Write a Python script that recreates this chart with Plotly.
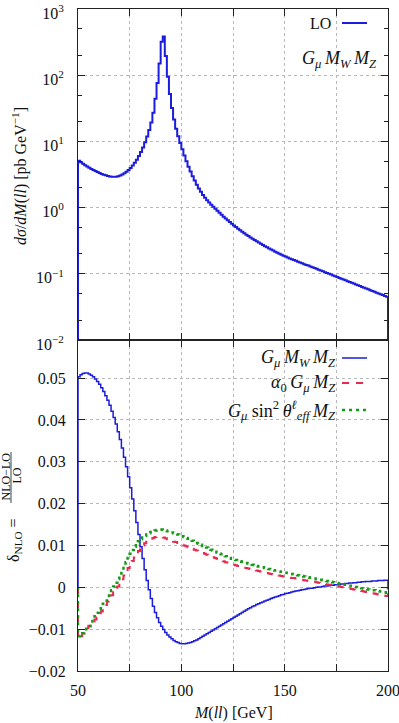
import plotly.graph_objects as go
from plotly.subplots import make_subplots

# bins of 1 GeV, lower edges
bin_lo = list(range(50, 200))

# LO cross section dsigma/dM(ll) [pb/GeV]
lo_xsec = [
    5.1, 4.85, 4.6, 4.38, 4.18, 4.0, 3.84, 3.69, 3.56, 3.44,
    3.33, 3.23, 3.14, 3.07, 3.01, 2.96, 2.93, 2.92, 2.93, 2.98,
    3.06, 3.17, 3.31, 3.49, 3.71, 3.98, 4.32, 4.75, 5.3, 6.0,
    6.9, 8.1, 9.7, 11.9, 14.9, 19.3, 27, 44, 76, 150,
    320, 385, 195, 95, 52, 32, 21.5, 15.5, 12, 9.5,
    7.6, 6.1, 5.0, 4.15, 3.5, 2.98, 2.56, 2.22, 1.95, 1.73,
    1.55, 1.41, 1.29, 1.19, 1.1, 1.03, 0.96, 0.895, 0.835, 0.78,
    0.73, 0.685, 0.643, 0.604, 0.57, 0.538, 0.508, 0.48, 0.455, 0.432,
    0.41, 0.39, 0.372, 0.355, 0.338, 0.323, 0.309, 0.296, 0.284, 0.272,
    0.261, 0.251, 0.241, 0.232, 0.224, 0.216, 0.208, 0.201, 0.194, 0.188,
    0.182, 0.176, 0.171, 0.166, 0.161, 0.157, 0.152, 0.148, 0.144, 0.14,
    0.136, 0.133, 0.129, 0.126, 0.1224, 0.119, 0.1156, 0.1123, 0.1091, 0.106,
    0.103, 0.1, 0.0972, 0.0945, 0.0918, 0.0892, 0.0867, 0.0843, 0.0819, 0.0796,
    0.0774, 0.0752, 0.0731, 0.0711, 0.0691, 0.0671, 0.0652, 0.0634, 0.0616, 0.0599,
    0.0582, 0.0566, 0.055, 0.0534, 0.0519, 0.0505, 0.0491, 0.0477, 0.0463, 0.045,
]

# relative NLO corrections, G_mu M_W M_Z scheme
d_gmw = [
    0.0503, 0.0508, 0.0511, 0.0512, 0.0512, 0.0510, 0.0507, 0.0503, 0.0498, 0.0492,
    0.0485, 0.0477, 0.0468, 0.0458, 0.0447, 0.0435, 0.0421, 0.0406, 0.0390, 0.0372,
    0.0353, 0.0333, 0.0311, 0.0288, 0.0264, 0.0238, 0.0211, 0.0183, 0.0155, 0.0126,
    0.0097, 0.0069, 0.0042, 0.0016, -0.0006, -0.0027, -0.0045, -0.0060, -0.0073, -0.0084,
    -0.0093, -0.0101, -0.0108, -0.0114, -0.0119, -0.0123, -0.0127, -0.0130, -0.0132, -0.0134,
    -0.0135, -0.0135, -0.0134, -0.0133, -0.0132, -0.0130, -0.0128, -0.0126, -0.0123, -0.0120,
    -0.0117, -0.0114, -0.0111, -0.0108, -0.0105, -0.0102, -0.0099, -0.0096, -0.0093, -0.0090,
    -0.0087, -0.0084, -0.0081, -0.0078, -0.0075, -0.0072, -0.0069, -0.0066, -0.0063, -0.0060,
    -0.0057, -0.0054, -0.0051, -0.0049, -0.0046, -0.0044, -0.0041, -0.0039, -0.0037, -0.0035,
    -0.0033, -0.0031, -0.0029, -0.0027, -0.0025, -0.0023, -0.0022, -0.0020, -0.0018, -0.0017,
    -0.0015, -0.0014, -0.0013, -0.0011, -0.0010, -0.0009, -0.0008, -0.0007, -0.0006, -0.0005,
    -0.0004, -0.0003, -0.0002, -0.0002, -0.0001, 0.0000, 0.0001, 0.0001, 0.0002, 0.0003,
    0.0003, 0.0004, 0.0005, 0.0005, 0.0006, 0.0006, 0.0007, 0.0008, 0.0008, 0.0009,
    0.0009, 0.0010, 0.0010, 0.0011, 0.0011, 0.0012, 0.0012, 0.0013, 0.0013, 0.0014,
    0.0014, 0.0014, 0.0015, 0.0015, 0.0015, 0.0016, 0.0016, 0.0016, 0.0017, 0.0017,
]

# alpha0 G_mu M_Z scheme
d_a0 = [
    -0.0122, -0.0117, -0.0110, -0.0104, -0.0098, -0.0092, -0.0087, -0.0082, -0.0077, -0.0072,
    -0.0066, -0.0058, -0.0050, -0.0042, -0.0034, -0.0027, -0.0019, -0.0012, -0.0005, 0.0002,
    0.0010, 0.0019, 0.0028, 0.0037, 0.0046, 0.0055, 0.0063, 0.0071, 0.0079, 0.0087,
    0.0094, 0.0100, 0.0105, 0.0109, 0.0113, 0.0116, 0.0118, 0.0120, 0.0121, 0.0121,
    0.0120, 0.0119, 0.0117, 0.0115, 0.0113, 0.0111, 0.0109, 0.0108, 0.0106, 0.0104,
    0.0102, 0.0100, 0.0098, 0.0096, 0.0094, 0.0092, 0.0090, 0.0088, 0.0086, 0.0084,
    0.0082, 0.0080, 0.0078, 0.0076, 0.0074, 0.0072, 0.0070, 0.0068, 0.0066, 0.0064,
    0.0062, 0.0060, 0.0059, 0.0057, 0.0055, 0.0054, 0.0053, 0.0051, 0.0050, 0.0049,
    0.0047, 0.0046, 0.0045, 0.0044, 0.0042, 0.0041, 0.0040, 0.0039, 0.0038, 0.0036,
    0.0035, 0.0034, 0.0033, 0.0032, 0.0031, 0.0030, 0.0029, 0.0028, 0.0027, 0.0026,
    0.0025, 0.0024, 0.0023, 0.0022, 0.0022, 0.0021, 0.0020, 0.0019, 0.0018, 0.0017,
    0.0016, 0.0015, 0.0014, 0.0013, 0.0013, 0.0012, 0.0011, 0.0010, 0.0009, 0.0008,
    0.0007, 0.0006, 0.0006, 0.0005, 0.0004, 0.0003, 0.0002, 0.0001, 0.0000, -0.0001,
    -0.0002, -0.0003, -0.0004, -0.0005, -0.0006, -0.0007, -0.0008, -0.0009, -0.0010, -0.0011,
    -0.0012, -0.0013, -0.0014, -0.0015, -0.0016, -0.0017, -0.0018, -0.0019, -0.0020, -0.0021,
]

# G_mu sin^2 theta_eff M_Z scheme
d_sw = [
    -0.0117, -0.0114, -0.0110, -0.0105, -0.0099, -0.0093, -0.0085, -0.0077, -0.0069, -0.0061,
    -0.0053, -0.0046, -0.0039, -0.0032, -0.0024, -0.0016, -0.0007, 0.0002, 0.0011, 0.0020,
    0.0030, 0.0040, 0.0050, 0.0060, 0.0070, 0.0080, 0.0089, 0.0097, 0.0104, 0.0110,
    0.0115, 0.0119, 0.0123, 0.0126, 0.0129, 0.0132, 0.0134, 0.0136, 0.0137, 0.0138,
    0.0138, 0.0137, 0.0136, 0.0134, 0.0132, 0.0131, 0.0129, 0.0127, 0.0126, 0.0124,
    0.0122, 0.0120, 0.0118, 0.0116, 0.0113, 0.0111, 0.0109, 0.0106, 0.0104, 0.0102,
    0.0099, 0.0097, 0.0095, 0.0092, 0.0090, 0.0088, 0.0085, 0.0083, 0.0081, 0.0079,
    0.0077, 0.0074, 0.0072, 0.0070, 0.0068, 0.0066, 0.0065, 0.0063, 0.0062, 0.0061,
    0.0059, 0.0058, 0.0057, 0.0055, 0.0054, 0.0053, 0.0051, 0.0050, 0.0049, 0.0048,
    0.0046, 0.0045, 0.0044, 0.0043, 0.0041, 0.0040, 0.0039, 0.0038, 0.0037, 0.0036,
    0.0035, 0.0034, 0.0033, 0.0032, 0.0031, 0.0030, 0.0029, 0.0028, 0.0027, 0.0026,
    0.0025, 0.0024, 0.0023, 0.0022, 0.0021, 0.0020, 0.0019, 0.0018, 0.0017, 0.0016,
    0.0015, 0.0014, 0.0013, 0.0012, 0.0011, 0.0010, 0.0009, 0.0008, 0.0007, 0.0006,
    0.0005, 0.0004, 0.0003, 0.0002, 0.0001, 0.0000, -0.0001, -0.0002, -0.0003, -0.0004,
    -0.0005, -0.0006, -0.0007, -0.0007, -0.0008, -0.0009, -0.0010, -0.0011, -0.0012, -0.0013,
]

x_ticks = [50, 75, 100, 125, 150, 175, 200]
x_ticktext = ["50", "", "100", "", "150", "", "200"]
y1_ticks = [1e-2, 1e-1, 1, 10, 100, 1000]
y1_ticktext = ["10<sup>\u22122</sup>", "10<sup>\u22121</sup>", "10<sup>0</sup>",
               "10<sup>1</sup>", "10<sup>2</sup>", "10<sup>3</sup>"]
y2_ticks = [-0.02, -0.01, 0, 0.01, 0.02, 0.03, 0.04, 0.05]
y2_ticktext = ["\u22120.02", "\u22120.01", "0", "0.01", "0.02", "0.03", "0.04", "0.05"]

BLUE = "#1c1cdc"
RED = "#e62a50"
GREEN = "#159a15"
FONT = "Liberation Serif"


def steps(vals, floor):
    """histogram outline, closed down to floor at both ends"""
    xs = [bin_lo[0]] + bin_lo + [bin_lo[-1] + 1, bin_lo[-1] + 1]
    ys = [floor] + list(vals) + [vals[-1], floor]
    return xs, ys


fig = make_subplots(rows=2, cols=1, shared_xaxes=True, vertical_spacing=0)

x, y = steps(lo_xsec, 1e-4)
fig.add_trace(go.Scatter(x=x, y=y, mode="lines", line=dict(color=BLUE, width=2, shape="hv"),
                         showlegend=False), row=1, col=1)

x, y = steps(d_gmw, 0)
fig.add_trace(go.Scatter(x=x, y=y, mode="lines", line=dict(color=BLUE, width=1.5, shape="hv"),
                         showlegend=False), row=2, col=1)
x, y = steps(d_a0, 0)
fig.add_trace(go.Scatter(x=x, y=y, mode="lines",
                         line=dict(color=RED, width=2, shape="hv", dash="7px,7px"),
                         showlegend=False), row=2, col=1)
x, y = steps(d_sw, 0)
fig.add_trace(go.Scatter(x=x, y=y, mode="lines",
                         line=dict(color=GREEN, width=2.5, shape="hv", dash="3px,4px"),
                         showlegend=False), row=2, col=1)

axis_common = dict(showline=True, linecolor="#222", linewidth=1, mirror="ticks",
                   ticks="inside", tickcolor="#222", ticklen=7, automargin=False,
                   ticklabeloverflow="allow",
                   showgrid=True, gridcolor="#b8b8b8", griddash="dot", gridwidth=1,
                   zeroline=False, tickfont=dict(family=FONT, size=16, color="#111"))

fig.update_xaxes(range=[50, 200], tickvals=x_ticks, ticktext=x_ticktext, **axis_common)
fig.update_xaxes(showticklabels=False, row=1, col=1)
fig.update_xaxes(ticklabelstandoff=5, row=2, col=1)
fig.update_yaxes(type="log", range=[-2, 3.0001], tickvals=y1_ticks, ticktext=y1_ticktext,
                 minor=dict(ticks="inside", ticklen=4, tickcolor="#222", showgrid=False),
                 ticklabelstandoff=10, ticklabelshift=4, row=1, col=1, **axis_common)
fig.update_yaxes(range=[-0.02, 0.0591], tickvals=y2_ticks, ticktext=y2_ticktext,
                 ticklabelstandoff=8, row=2, col=1, **axis_common)


def px(xpix):
    return (xpix - 78) / 310


def py(ypix):
    return (671 - ypix) / 662


tf = dict(family=FONT, size=16, color="#111")
lf = dict(family=FONT, size=18, color="#111")
sf = dict(family=FONT, size=12, color="#111")
th = "\u2009"
gmw = (f"<i>G</i><sub><i>\u03bc</i></sub>{th}<i>M</i><sub><i>W</i></sub>{th}"
       f"<i>M</i><sub><i>Z</i></sub>")
ann = [
    dict(x=px(20), y=py(176), text="<i>d\u03c3</i>/<i>dM</i>(<i>ll</i>) [pb GeV<sup>\u22121</sup>]",
         textangle=-90, font=tf),
    dict(x=px(14), y=py(540), text="\u03b4<sub>NLO</sub> =", textangle=-90, font=tf),
    dict(x=px(5.5), y=py(477), text="NLO\u2212LO", textangle=-90, font=sf),
    dict(x=px(16.5), y=py(476), text="LO", textangle=-90, font=sf),
    dict(x=px(233), y=py(713), text="<i>M</i>(<i>ll</i>) [GeV]", font=tf),
    dict(x=px(333), y=py(23), text="LO", xanchor="right", font=tf),
    dict(x=px(379), y=py(59), xanchor="right", font=lf, text=gmw),
    dict(x=px(338), y=py(358), xanchor="right", font=lf, text=gmw),
    dict(x=px(338), y=py(383), xanchor="right", font=lf,
         text=f"<i>\u03b1</i><sub>0</sub>{th}<i>G</i><sub><i>\u03bc</i></sub>{th}<i>M</i><sub><i>Z</i></sub>"),
    dict(x=px(338), y=py(410), xanchor="right", font=lf,
         text=f"<i>G</i><sub><i>\u03bc</i></sub> sin<sup>2</sup>{th}<i>\u03b8</i><sup><i>\u2113</i></sup>"
              f"<sub><i>eff</i></sub>{th}<i>M</i><sub><i>Z</i></sub>"),
]
for a in ann:
    a.setdefault("xanchor", "center")
    a.update(xref="paper", yref="paper", yanchor="middle", showarrow=False)
fig.update_layout(annotations=ann)

# fraction bar and legend samples
shapes = [
    dict(type="line", x0=px(11), x1=px(11), y0=py(452), y1=py(503),
         line=dict(color="#111", width=0.8)),
    dict(type="line", x0=px(342), x1=px(367), y0=py(23), y1=py(23),
         line=dict(color=BLUE, width=2)),
    dict(type="line", x0=px(342), x1=px(367), y0=py(358), y1=py(358),
         line=dict(color=BLUE, width=1.5)),
    dict(type="line", x0=px(342), x1=px(367), y0=py(383), y1=py(383),
         line=dict(color=RED, width=2, dash="7px,7px")),
    dict(type="line", x0=px(342), x1=px(367), y0=py(410), y1=py(410),
         line=dict(color=GREEN, width=2.5, dash="3px,4px")),
]
for s in shapes:
    s.update(xref="paper", yref="paper")

fig.update_layout(
    shapes=shapes,
    width=399, height=723,
    margin=dict(l=78, r=11, t=9, b=52),
    plot_bgcolor="white", paper_bgcolor="white",
    showlegend=False,
)

# page body has a default margin; remove it so the figure sits at the window origin
fig.write_html("out.html", config={"displayModeBar": False},
               post_script="document.body.style.margin='0';")
